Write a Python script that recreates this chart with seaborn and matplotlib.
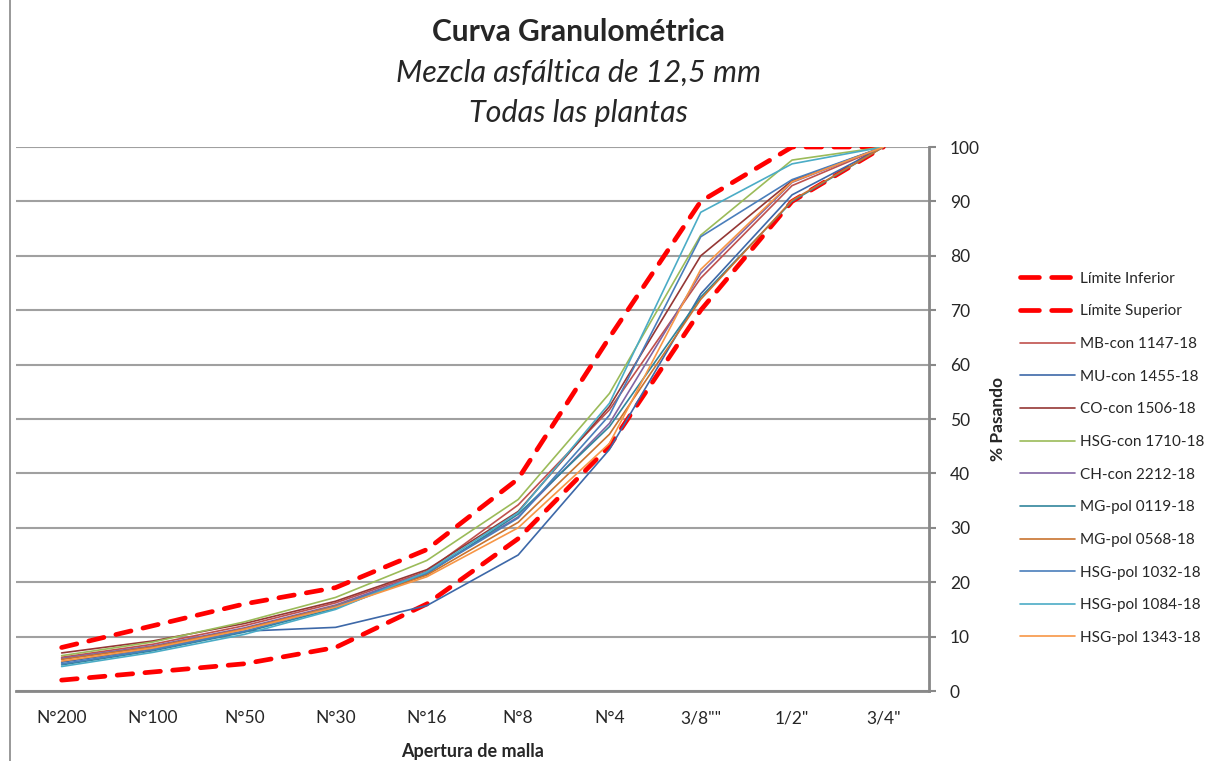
import numpy as np
import pandas as pd
import matplotlib
matplotlib.use("Agg")
import matplotlib.pyplot as plt
import seaborn as sns

# tamices (eje x)
tamices = ["N°200", "N°100", "N°50", "N°30", "N°16", "N°8", "N°4", '3/8""', '1/2"', '3/4"']

# limites de la especificacion
lim_inferior = [2, 3.5, 5, 8, 16, 28, 45, 70, 90, 100]
lim_superior = [8, 12, 16, 19, 26, 39, 65, 90, 100, 100]

# curvas de cada planta (% pasando)
mb_con_1147 = [6.2, 8.6, 12.0, 16.2, 22.0, 34.2, 51.7, 75.9, 92.9, 100]
mu_con_1455 = [5.3, 7.8, 11.0, 11.7, 15.7, 25.0, 44.4, 73.0, 91.2, 100]
co_con_1506 = [7.0, 9.2, 12.4, 16.5, 22.3, 33.0, 52.3, 80.0, 93.8, 100]
hsg_con_1710 = [6.5, 9.0, 12.7, 17.2, 24.0, 35.2, 54.7, 83.8, 97.6, 100]
ch_con_2212 = [6.0, 8.3, 11.6, 15.8, 21.8, 32.0, 49.2, 76.8, 93.5, 100]
mg_pol_0119 = [4.8, 7.4, 10.8, 15.2, 21.5, 32.5, 48.6, 72.4, 90.0, 100]
mg_pol_0568 = [5.8, 8.1, 11.4, 15.6, 21.3, 31.0, 47.2, 72.0, 90.2, 100]
hsg_pol_1032 = [5.0, 7.6, 11.0, 15.5, 21.7, 31.8, 50.7, 83.5, 94.0, 100]
hsg_pol_1084 = [4.5, 7.1, 10.4, 15.0, 21.9, 32.8, 52.9, 88.0, 96.9, 100]
hsg_pol_1343 = [5.5, 7.9, 11.3, 15.4, 21.0, 30.0, 45.5, 77.5, 93.6, 100]

curvas = {
    "MB-con 1147-18": (mb_con_1147, "#C0504D"),
    "MU-con 1455-18": (mu_con_1455, "#3D68A8"),
    "CO-con 1506-18": (co_con_1506, "#953735"),
    "HSG-con 1710-18": (hsg_con_1710, "#9BBB59"),
    "CH-con 2212-18": (ch_con_2212, "#8064A2"),
    "MG-pol 0119-18": (mg_pol_0119, "#31859C"),
    "MG-pol 0568-18": (mg_pol_0568, "#C8732F"),
    "HSG-pol 1032-18": (hsg_pol_1032, "#4A7EBB"),
    "HSG-pol 1084-18": (hsg_pol_1084, "#4BACC6"),
    "HSG-pol 1343-18": (hsg_pol_1343, "#F79646"),
}

sns.set_style("white")
plt.rcParams["font.family"] = ["Lato", "DejaVu Sans"]

fig = plt.figure(figsize=(12.12, 7.61), dpi=100)
ax = fig.add_axes([16 / 1212, 70 / 761, 913 / 1212, 544 / 761])

x = np.arange(len(tamices))

for nombre, valores in [("Límite Inferior", lim_inferior), ("Límite Superior", lim_superior)]:
    df = pd.DataFrame({"x": x, "y": valores})
    sns.lineplot(data=df, x="x", y="y", ax=ax, color="#FF0000", linewidth=3.4,
                 label=nombre, dashes=False)
    ax.lines[-1].set_dashes((3.3, 2.6))
    ax.lines[-1].set_dash_capstyle("round")

for nombre, (valores, color) in curvas.items():
    df = pd.DataFrame({"x": x, "y": valores})
    sns.lineplot(data=df, x="x", y="y", ax=ax, color=color, linewidth=1.2, label=nombre)

ax.set_xlim(-0.5, len(tamices) - 0.5)
ax.set_ylim(0, 100)
ax.set_yticks(np.arange(0, 101, 10))
ax.yaxis.tick_right()
ax.yaxis.set_label_position("right")
ax.grid(axis="y", color="#A0A0A0", linewidth=1.5)
ax.set_axisbelow(True)

ax.set_xticks(x)
ax.set_xticklabels(tamices, fontsize=12.5)
ax.set_xticks(np.arange(-0.5, len(tamices), 1), minor=True)
ax.tick_params(axis="x", which="major", length=0, pad=14)
ax.tick_params(axis="x", which="minor", length=6, width=1.5, color="#888888", direction="out")
ax.tick_params(axis="y", length=5, width=1.5, color="#888888", labelsize=12.5, pad=10)
for lbl in ax.get_yticklabels():
    lbl.set_horizontalalignment("left")

for s in ["left", "top"]:
    ax.spines[s].set_visible(False)
for s in ["right", "bottom"]:
    ax.spines[s].set_color("#888888")
    ax.spines[s].set_linewidth(2)

ax.set_xlabel("Apertura de malla", fontsize=13, fontweight="bold", labelpad=12)
ax.set_ylabel("% Pasando", fontsize=12.5, fontweight="bold", labelpad=7)

leg = ax.legend(loc="upper left", bbox_to_anchor=(1006 / 1212, 1 - 258 / 761),
                bbox_transform=fig.transFigure, frameon=False, fontsize=11,
                handlelength=3.6, labelspacing=1.22, handletextpad=0.35)
for h in leg.get_lines()[:2]:
    h.set_dashes((4.0, 2.6))
    h.set_dash_capstyle("round")

fig.text(0.477, 1 - 32 / 761, "Curva Granulométrica", ha="center", va="center",
         fontsize=21.5, fontweight="bold")
fig.text(0.477, 1 - 73 / 761, "Mezcla asfáltica de 12,5 mm", ha="center", va="center",
         fontsize=22, style="italic")
fig.text(0.477, 1 - 113 / 761, "Todas las plantas", ha="center", va="center",
         fontsize=22, style="italic")

fig.add_artist(plt.Rectangle((10 / 1212, -0.01), 1.2, 1.2, transform=fig.transFigure,
                             fill=False, edgecolor="#888888", linewidth=1.2))

fig.savefig("out.png", dpi=100)
